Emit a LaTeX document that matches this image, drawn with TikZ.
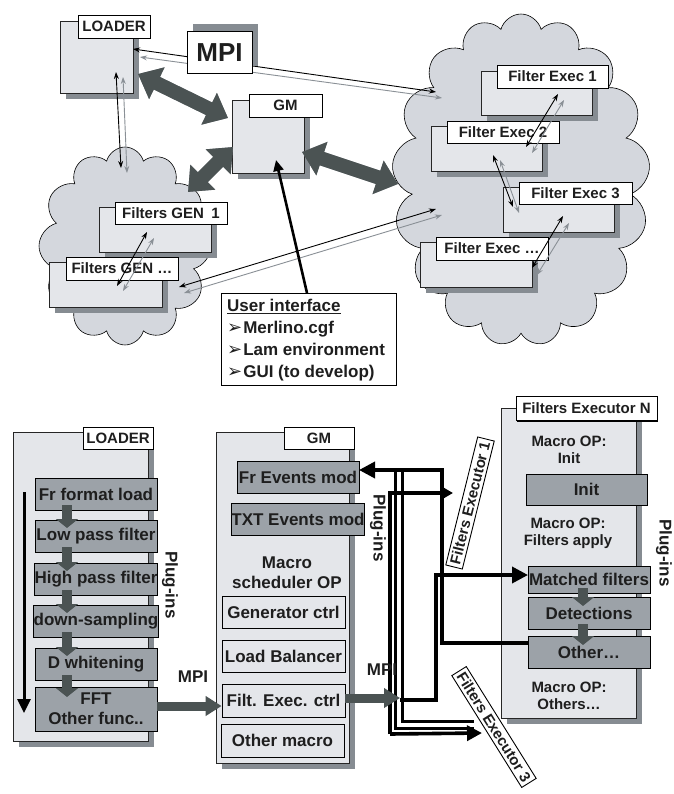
\documentclass[tikz,border=0pt]{standalone}
\usepackage{fontspec}
\setmainfont{Liberation Sans}
\newfontfamily\symf{DejaVu Sans}
\usetikzlibrary{arrows.meta,shapes.symbols,shadows,calc}
\definecolor{panelgray}{HTML}{E4E6EA}
\definecolor{shadowgray}{HTML}{868C92}
\definecolor{plugdark}{HTML}{9CA2A8}
\definecolor{arrowdark}{HTML}{4B5353}
\definecolor{cloudgray}{HTML}{D4D7DD}
\definecolor{txt}{HTML}{1E1E1E}
\definecolor{thingray}{HTML}{8A9096}
\newcommand\bul{{\symf\fontsize{18}{18}\selectfont ➢}\hspace{1pt}}
\tikzset{
  every node/.style={text=txt},
  fA/.style={font=\bfseries\fontsize{15}{17}\selectfont},
  fB/.style={font=\bfseries\fontsize{17}{20}\selectfont},
  shad/.style={drop shadow={shadow xshift=6pt, shadow yshift=-6pt, fill=shadowgray, opacity=1}},
  panel/.style={draw=black!85, fill=panelgray, line width=0.8pt, inner sep=0pt, shad},
  lab/.style={draw=black, fill=white, line width=0.9pt, inner sep=0pt, fA,
     drop shadow={shadow xshift=1.3pt, shadow yshift=-1.3pt, fill=black, opacity=1}},
  plug/.style={draw=black, fill=plugdark, line width=0.8pt, inner sep=0pt, minimum width=122pt, minimum height=32pt, fB},
  lbox/.style={draw=black, fill=panelgray, line width=0.8pt, inner sep=0pt, minimum width=123pt, minimum height=32pt, fB},
  fat/.style={line width=14pt, {Triangle[length=21pt,width=34pt]}-{Triangle[length=21pt,width=34pt]}},
  thinb/.style={draw=black, line width=0.9pt, {Stealth[length=7pt,width=5pt]}-{Stealth[length=7pt,width=5pt]}},
  thing/.style={draw=thingray, line width=0.9pt, {Stealth[length=7pt,width=5pt]}-{Stealth[length=7pt,width=5pt]}},
  smallarr/.style={arrowdark, line width=10pt, -{Triangle[length=9pt,width=22pt]}},
  wire/.style={draw=black, line width=3.6pt},
  dbl/.style={draw=black, line width=3pt, double=white, double distance=4pt},
  rlab/.style={draw=black, fill=white, line width=0.9pt, inner sep=3pt, fA},
}
\begin{document}
\begin{tikzpicture}[x=1pt,y=-1pt]
\useasboundingbox (0,0) rectangle (673,794);
\fill[white] (0,0) rectangle (673,794);

% ---------------- TOP: clouds ----------------
\node[cloud, cloud puffs=12, cloud ignores aspect, minimum width=172pt, minimum height=198pt,
      draw=black, fill=cloudgray, line width=0.6pt] (cloudL) at (125,246) {};
\node[cloud, cloud puffs=17, cloud ignores aspect, minimum width=258pt, minimum height=332pt,
      draw=black, fill=cloudgray, line width=0.6pt] (cloudR) at (521,180) {};

% ---------------- TOP: boxes ----------------
\node[panel, minimum width=73pt, minimum height=72pt] (loaderT) at (96.5,57) {};
\node[lab, minimum width=72pt, minimum height=23pt] (labloaderT) at (114,26.5) {LOADER};
\node[panel, minimum width=72pt, minimum height=73pt] (gmT) at (268,136.5) {};
\node[lab, minimum width=73pt, minimum height=23pt] (labgmT) at (285.5,105.5) {GM};

\node[panel, minimum width=111pt, minimum height=44pt] (fe1b) at (536.5,93) {};
\node[lab, minimum width=111pt, minimum height=23pt] (fe1l) at (552.5,76.5) {Filter Exec 1};
\node[panel, minimum width=111pt, minimum height=45pt] (fe2b) at (486.5,148.5) {};
\node[lab, minimum width=112pt, minimum height=22pt] (fe2l) at (503,132) {Filter Exec 2};
\node[panel, minimum width=111pt, minimum height=45pt] (fe3b) at (558.5,209.5) {};
\node[lab, minimum width=113pt, minimum height=22pt] (fe3l) at (575.5,193) {Filter Exec 3};
\node[panel, minimum width=112pt, minimum height=45pt] (fe4b) at (476,264.5) {};
\node[lab, minimum width=112pt, minimum height=23pt] (fe4l) at (492,248.5) {Filter Exec …};

\node[panel, minimum width=112pt, minimum height=45pt] (gen1b) at (155,229.5) {};
\node[lab, minimum width=112pt, minimum height=22pt] (gen1l) at (171,213) {Filters GEN\enspace 1};
\node[panel, minimum width=113pt, minimum height=45pt] (gen2b) at (105.5,284.5) {};
\node[lab, minimum width=112pt, minimum height=23pt] (gen2l) at (122,268.5) {Filters GEN …};

% ---------------- TOP: fat arrows ----------------
\coordinate (fa1) at (138,74);  \coordinate (fa2) at (228,118);
\coordinate (fb1) at (233,147); \coordinate (fb2) at (188,192);
\coordinate (fc1) at (302,152); \coordinate (fc2) at (398,184);
\begin{scope}[shift={(4,5)}]
\draw[fat, shadowgray] (fa1) -- (fa2);
\draw[fat, shadowgray] (fb1) -- (fb2);
\draw[fat, shadowgray] (fc1) -- (fc2);
\end{scope}
\draw[fat, arrowdark] (fa1) -- (fa2);
\draw[fat, arrowdark] (fb1) -- (fb2);
\draw[fat, arrowdark] (fc1) -- (fc2);

% ---------------- TOP: thin arrows ----------------
\coordinate (m1) at (133,49);  \coordinate (m2) at (436,92);
\coordinate (m3) at (140,57);  \coordinate (m4) at (442,98);
\draw[thinb] (m1) -- (m2);
\draw[thing] (m3) -- (m4);
\coordinate (l1) at (116,72);  \coordinate (l2) at (121,168);
\coordinate (l3) at (123,77);  \coordinate (l4) at (127,173);
\draw[thinb] (l1) -- (l2);
\draw[thing] (l3) -- (l4);
\coordinate (g1) at (147,232); \coordinate (g2) at (117,286);
\coordinate (g3) at (154,238); \coordinate (g4) at (123,291);
\draw[thinb] (g1) -- (g2);
\draw[thing] (g3) -- (g4);
\coordinate (x1) at (179,287); \coordinate (x2) at (436,209);
\coordinate (x3) at (184,293); \coordinate (x4) at (442,215);
\draw[thinb] (x1) -- (x2);
\draw[thing] (x3) -- (x4);
\coordinate (e1) at (558,94);  \coordinate (e2) at (526,147);
\coordinate (e3) at (564,100); \coordinate (e4) at (532,153);
\draw[thinb] (e1) -- (e2);
\draw[thing] (e3) -- (e4);
\coordinate (e5) at (493,155); \coordinate (e6) at (513,207);
\coordinate (e7) at (500,160); \coordinate (e8) at (519,213);
\draw[thinb] (e5) -- (e6);
\draw[thing] (e7) -- (e8);
\coordinate (e9) at (563,216);  \coordinate (e10) at (532,268);
\coordinate (e11) at (569,223); \coordinate (e12) at (537,275);
\draw[thinb] (e9) -- (e10);
\draw[thing] (e11) -- (e12);

% MPI box (on top of lines)
\node[draw=black, fill=white, line width=1pt, inner sep=0pt, minimum width=65pt, minimum height=42pt,
      font=\bfseries\fontsize{26}{28}\selectfont,
      drop shadow={shadow xshift=6pt, shadow yshift=8pt, fill=shadowgray, opacity=1}] (mpiT) at (219.5,53) {MPI};

% User interface
\node[draw=black, fill=white, line width=0.8pt, minimum width=175pt, minimum height=92pt, inner sep=0pt] (ui) at (308.5,339) {};
\node[anchor=west, align=left, inner sep=0pt, font=\bfseries\fontsize{17}{22}\selectfont] (uitext) at (227,340)
  {\underline{User interface}\\ \bul Merlino.cgf\\ \bul Lam environment\\ \bul GUI (to develop)};
\coordinate (uitop) at (307,293);
\coordinate (gmin) at (276,160);
\draw[black, line width=2.6pt, -{Triangle[length=11pt,width=10pt]}] (uitop) -- (gmin);

% ---------------- BOTTOM: LOADER ----------------
\node[panel, minimum width=135pt, minimum height=309pt] (loaderB) at (80.5,586.5) {};
\node[lab, minimum width=70pt, minimum height=22pt] (labloaderB) at (118,438) {LOADER};
\node[plug] (p1) at (96,494) {Fr format load};
\node[plug] (p2) at (96,536) {Low pass filter};
\node[plug] (p3) at (96,579) {High pass filter};
\node[plug] (p4) at (96,621) {down-sampling};
\node[plug] (p5) at (96,664) {D whitening};
\node[plug, minimum height=44pt, align=center] (p6) at (96,709) {FFT\\Other func..};
\draw[smallarr] (67,505) -- (67,528);
\draw[smallarr] (67,547) -- (67,571);
\draw[smallarr] (67,590) -- (67,613);
\draw[smallarr] (67,632) -- (67,656);
\draw[smallarr] (67,675) -- (67,697);
\coordinate (va1) at (24,492); \coordinate (va2) at (24,713);
\draw[black, line width=3pt, -{Triangle[length=14pt,width=13pt]}] (va1) -- (va2);
\node[fB, rotate=-90, inner sep=0pt] (plugL) at (170,585) {Plug-ins};

% MPI arrow 1
\node[fB, inner sep=0pt] (mpiB1) at (193,677) {MPI};
\node[panel, minimum width=133pt, minimum height=331pt] (gmB) at (282.5,597.5) {};
\node[lab, minimum width=70pt, minimum height=22pt] (labgmB) at (319,438) {GM};
\node[plug] (g1b) at (298,477) {Fr Events mod};
\node[plug] (g2b) at (298,519) {TXT Events mod};
\node[fB, align=center, inner sep=0pt] (macro) at (287,573) {Macro\\scheduler OP};
\node[lbox] (c1) at (283.5,612) {Generator ctrl};
\node[lbox] (c2) at (283.5,656) {Load Balancer};
\node[lbox, minimum height=33pt] (c3) at (283.5,700.5) {Filt. Exec. ctrl};
\node[lbox, minimum height=33pt] (c4) at (282.5,740.5) {Other macro};
\node[fB, rotate=-90, inner sep=0pt] (plugM) at (378,528) {Plug-ins};

\draw[arrowdark, line width=9pt, -{Triangle[length=16pt,width=19pt]}] (p6.east |- 0,706) -- (c3.west |- 0,706);

% ---------------- BOTTOM: Filters Executor N ----------------
\node[panel, minimum width=135pt, minimum height=310pt] (fenB) at (568.5,563) {};
\node[lab, minimum width=141pt, minimum height=24pt] (labfen) at (586.5,408.5) {Filters Executor N};
\node[fA, align=center, inner sep=0pt] (mop1) at (569,450) {Macro OP:\\Init};
\node[plug, minimum width=121pt, minimum height=31pt] (init) at (586.5,489.5) {Init};
\node[fA, align=center, inner sep=0pt] (mop2) at (568,533) {Macro OP:\\Filters apply};
\node[plug, minimum height=27pt] (mf) at (589,579.5) {Matched filters};
\node[plug] (det) at (589,613) {Detections};
\node[plug] (oth) at (589,652) {Other…};
\node[fA, align=center, inner sep=0pt] (mop3) at (569,696) {Macro OP:\\Others…};
\draw[smallarr] (583,588) -- (583,606);
\draw[smallarr] (583,624) -- (583,645);
\node[fB, rotate=-90, inner sep=0pt] (plugR) at (664,553) {Plug-ins};

% ---------------- BOTTOM: wires ----------------
\coordinate (w0) at (400,700);
\coordinate (frin) at (359,470);
\coordinate (othin) at (528,643);
\coordinate (mfin) at (528,575);
\coordinate (fe1in) at (453,493);
\coordinate (fe3in) at (482,733);
\draw[dbl] (399,470) -- (399,725) -- (474,725);
\draw[wire, -{Triangle[length=12pt,width=13pt]}] (390,734) -- (390,493) -- (fe1in);
\draw[wire, -{Triangle[length=15pt,width=15pt]}] (390,734) -- (fe3in);
\draw[wire, -{Triangle[length=16pt,width=16pt]}] (othin) -- (442,643) -- (442,470) -- (frin);
\draw[wire, -{Triangle[length=16pt,width=16pt]}] (w0) -- (436,700) -- (436,575) -- (mfin);

\node[fB, inner sep=0pt] (mpiB2) at (382,670) {MPI};
\draw[arrowdark, line width=9pt, -{Triangle[length=16pt,width=19pt]}] (c3.east |- 0,698) -- (w0 |- 0,698);

% rotated labels
\node[rlab, rotate=76] (fex1) at (470,503) {Filters Executor 1};
\node[rlab, rotate=-58] (fex3) at (494,727) {Filters Executor 3};
\end{tikzpicture}
\end{document}
